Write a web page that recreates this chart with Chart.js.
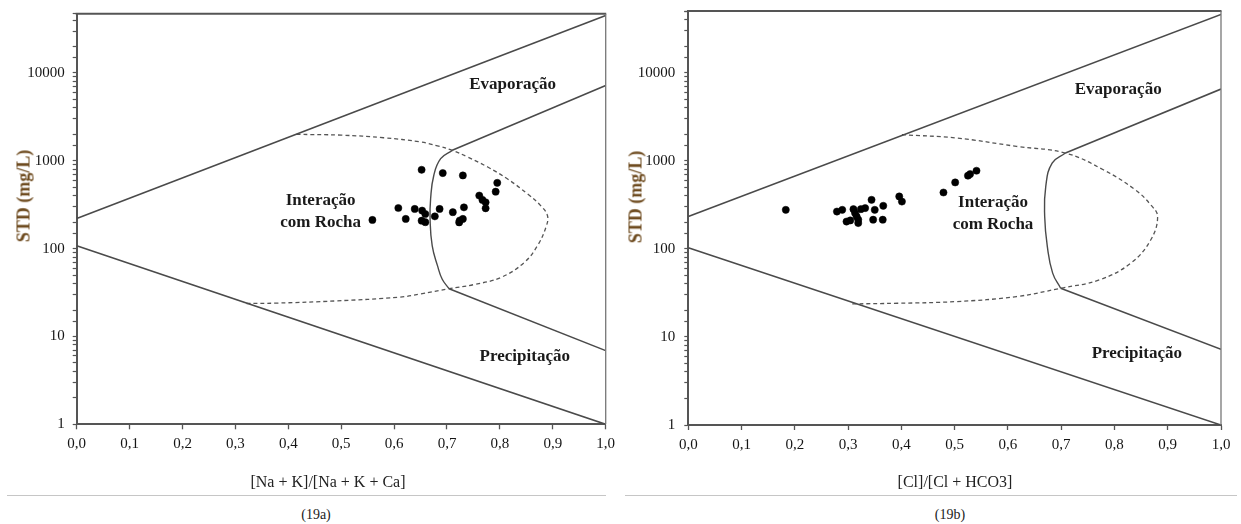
<!DOCTYPE html>
<html>
<head>
<meta charset="utf-8">
<script src="https://cdn.jsdelivr.net/npm/chart.js@4.4.1/dist/chart.umd.min.js"></script>
<style>
  html, body { margin: 0; padding: 0; background: #fff; }
  body { width: 1241px; height: 524px; position: relative; overflow: hidden;
         font-family: "Liberation Serif", "Times New Roman", serif; }
  .panel { position: absolute; top: 0; height: 500px; }
  .txt { position: absolute; white-space: nowrap; transform: translate(-50%, -50%); color: #222; }
  .ytitle { transform: translate(-50%, -50%) rotate(-90deg); font-weight: bold; font-size: 18px; color: #6e4b1f; }
  .xtitle { font-size: 16px; }
  .caption { font-size: 14px; }
  .rule { position: absolute; height: 0; border-top: 1.5px solid #c6c6c6; }
</style>
</head>
<body>
<div class="panel" style="left:0;width:620px"><canvas id="gibbsCations" width="620" height="500"></canvas></div>
<div class="panel" style="left:620px;width:621px"><canvas id="gibbsAnions" width="621" height="500"></canvas></div>

<div class="txt ytitle" style="left:24px;top:196px">STD (mg/L)</div>
<div class="txt ytitle" style="left:636px;top:197px">STD (mg/L)</div>
<div class="txt xtitle" style="left:328px;top:482px">[Na + K]/[Na + K + Ca]</div>
<div class="txt xtitle" style="left:955px;top:482px">[Cl]/[Cl + HCO3]</div>
<div class="rule" style="left:7px;width:599px;top:495px"></div>
<div class="rule" style="left:625px;width:612px;top:495px"></div>
<div class="txt caption" style="left:316px;top:515px">(19a)</div>
<div class="txt caption" style="left:950px;top:515px">(19b)</div>

<script>
// ---- Samples: [ratio, STD mg/L] ----
const naSamples = [
  [0.559, 212], [0.608, 290], [0.622, 218], [0.639, 283], [0.652, 790], [0.653, 271],
  [0.659, 248], [0.652, 208], [0.659, 200], [0.677, 233], [0.686, 283], [0.692, 725],
  [0.711, 260], [0.723, 199], [0.724, 209], [0.730, 218], [0.730, 681], [0.732, 295],
  [0.761, 402], [0.767, 359], [0.773, 337], [0.773, 288], [0.792, 445], [0.795, 561]
];
const clSamples = [
  [0.183, 277], [0.279, 265], [0.289, 277], [0.297, 204], [0.304, 210], [0.310, 282],
  [0.313, 255], [0.316, 233], [0.319, 196], [0.319, 214], [0.324, 282], [0.332, 290],
  [0.344, 360], [0.347, 214], [0.350, 277], [0.365, 214], [0.366, 308], [0.396, 393],
  [0.401, 344], [0.479, 436], [0.501, 567], [0.525, 676], [0.529, 705], [0.541, 770]
];

// ---- Gibbs field boundaries, cation diagram ----
const naUpperLimit = [[0, 220], [1, 45000]];
const naLowerLimit = [[0, 108], [1, 1]];
const naUpperBranch = [[0.710, 1315], [1, 7200]];
const naLowerBranch = [[0.704, 35], [1, 6.9]];
const naRockFront = [[0.710, 1315], [0.688, 1057], [0.675, 681], [0.669, 368], [0.668, 218],
  [0.672, 108], [0.682, 64], [0.691, 44.8], [0.704, 35]];
const naRockEnvelope = [[0.415, 2000], [0.50, 1960], [0.58, 1830], [0.65, 1640], [0.682, 1480],
  [0.710, 1315], [0.739, 1105], [0.777, 849], [0.814, 624], [0.852, 421], [0.877, 309],
  [0.890, 237], [0.887, 175], [0.871, 108], [0.846, 69.5], [0.802, 47], [0.751, 39],
  [0.704, 35], [0.65, 30.5], [0.61, 28], [0.49, 25.4], [0.379, 24], [0.315, 23.7]];

// ---- Gibbs field boundaries, anion diagram ----
const clUpperLimit = [[0, 233], [1, 45700]];
const clLowerLimit = [[0, 103], [1, 1]];
const clUpperBranch = [[0.708, 1222], [1, 6520]];
const clLowerBranch = [[0.699, 35.7], [1, 7.24]];
const clRockFront = [[0.708, 1222], [0.683, 940], [0.671, 509], [0.669, 233], [0.674, 106],
  [0.684, 53], [0.699, 35.7]];
const clRockEnvelope = [[0.401, 1975], [0.504, 1810], [0.616, 1455], [0.708, 1222], [0.779, 790],
  [0.839, 468], [0.868, 316], [0.881, 233], [0.868, 126], [0.831, 69], [0.772, 44.5],
  [0.699, 35.7], [0.616, 28.7], [0.504, 25.2], [0.393, 24.1], [0.307, 23.7]];

// ---- Axis tick labels ----
const stdTickLabels = [1, 10, 100, 1000, 10000];
const ratioTickStep = 0.1;

const toPoints = arr => arr.map(([x, y]) => ({ x, y }));
const LINE = '#4a4a4a';

// Field names, written at data coordinates
const regionLabelPlugin = {
  id: 'regionLabels',
  afterDatasetsDraw(chart, args, opts) {
    const { ctx, scales } = chart;
    ctx.save();
    ctx.font = 'bold 17px "Liberation Serif", serif';
    ctx.fillStyle = '#1a1a1a';
    ctx.textAlign = 'center';
    ctx.textBaseline = 'middle';
    (opts.items || []).forEach(([text, x, y]) => {
      ctx.fillText(text, scales.x.getPixelForValue(x), scales.y.getPixelForValue(y));
    });
    ctx.restore();
  }
};

// Top and right edges of the plot frame
const frameEdgePlugin = {
  id: 'frameEdges',
  afterDraw(chart) {
    const { ctx, chartArea: a } = chart;
    ctx.save();
    ctx.strokeStyle = '#555';
    ctx.lineWidth = 2;
    ctx.beginPath();
    ctx.moveTo(a.left - 1, a.top);
    ctx.lineTo(a.right + 0.5, a.top);
    ctx.stroke();
    ctx.strokeStyle = '#777';
    ctx.lineWidth = 1.3;
    ctx.beginPath();
    ctx.moveTo(a.right, a.top);
    ctx.lineTo(a.right, a.bottom);
    ctx.stroke();
    ctx.restore();
  }
};

function buildGibbs(canvasId, s) {
  const boundary = (pts, extra) => Object.assign({
    data: toPoints(pts), showLine: true, pointRadius: 0, pointHoverRadius: 0,
    borderColor: LINE, borderWidth: 1.6, backgroundColor: LINE, fill: false, tension: 0
  }, extra || {});

  return new Chart(document.getElementById(canvasId), {
    type: 'scatter',
    data: {
      datasets: [
        { data: toPoints(s.samples), pointRadius: 3.6, pointBackgroundColor: '#000',
          pointBorderColor: '#000', pointBorderWidth: 0.5, showLine: false },
        boundary(s.upper),
        boundary(s.lower),
        boundary(s.upperBranch),
        boundary(s.lowerBranch),
        boundary(s.front, { tension: 0.45, borderWidth: 1.4 }),
        boundary(s.envelope, { tension: 0.4, borderWidth: 1.3, borderDash: [4, 3], borderColor: '#555' })
      ]
    },
    options: {
      responsive: false,
      devicePixelRatio: 1,
      animation: false,
      events: [],
      layout: { padding: { left: 0, right: s.padRight, top: s.padTop, bottom: 0 } },
      plugins: {
        legend: { display: false },
        tooltip: { enabled: false },
        regionLabels: { items: s.labels }
      },
      scales: {
        x: {
          type: 'linear', position: 'bottom', min: 0, max: 1,
          afterFit: sc => { sc.height = s.xAxisHeight; sc.paddingLeft = 0; sc.paddingRight = 0; },
          ticks: {
            stepSize: ratioTickStep, autoSkip: false, maxRotation: 0, padding: 6,
            color: '#151515', font: { family: '"Liberation Serif", serif', size: 15 },
            callback: v => Number(v).toFixed(1).replace('.', ',')
          },
          grid: { drawOnChartArea: false, drawTicks: true, tickLength: 5, tickColor: '#555', tickWidth: 1.3 },
          border: { color: '#555', width: 2 }
        },
        y: {
          type: 'logarithmic', position: 'left', min: 1, max: s.yMax,
          afterFit: sc => { sc.width = s.yAxisWidth; sc.paddingTop = 0; sc.paddingBottom = 0; },
          ticks: {
            autoSkip: false, padding: s.yTickPad, color: '#151515',
            font: { family: '"Liberation Serif", serif', size: 15 },
            callback: v => stdTickLabels.includes(Number(v)) ? String(v) : ''
          },
          grid: { drawOnChartArea: false, drawTicks: true, tickLength: 4, tickColor: '#555', tickWidth: 1.2 },
          border: { color: '#555', width: 2 }
        }
      }
    },
    plugins: [regionLabelPlugin, frameEdgePlugin]
  });
}

buildGibbs('gibbsCations', {
  samples: naSamples, upper: naUpperLimit, lower: naLowerLimit,
  upperBranch: naUpperBranch, lowerBranch: naLowerBranch,
  front: naRockFront, envelope: naRockEnvelope,
  yMax: 47300, yAxisWidth: 76.7, xAxisHeight: 75.7, padRight: 14.3, padTop: 13.7, yTickPad: 8,
  labels: [['Evaporação', 0.824, 7430], ['Interação', 0.461, 352],
           ['com Rocha', 0.461, 199], ['Precipitação', 0.847, 5.93]]
});

buildGibbs('gibbsAnions', {
  samples: clSamples, upper: clUpperLimit, lower: clLowerLimit,
  upperBranch: clUpperBranch, lowerBranch: clLowerBranch,
  front: clRockFront, envelope: clRockEnvelope,
  yMax: 50100, yAxisWidth: 68.3, xAxisHeight: 75, padRight: 20, padTop: 11, yTickPad: 9,
  labels: [['Evaporação', 0.807, 6410], ['Interação', 0.572, 339],
           ['com Rocha', 0.572, 187], ['Precipitação', 0.842, 6.47]]
});
</script>
</body>
</html>
